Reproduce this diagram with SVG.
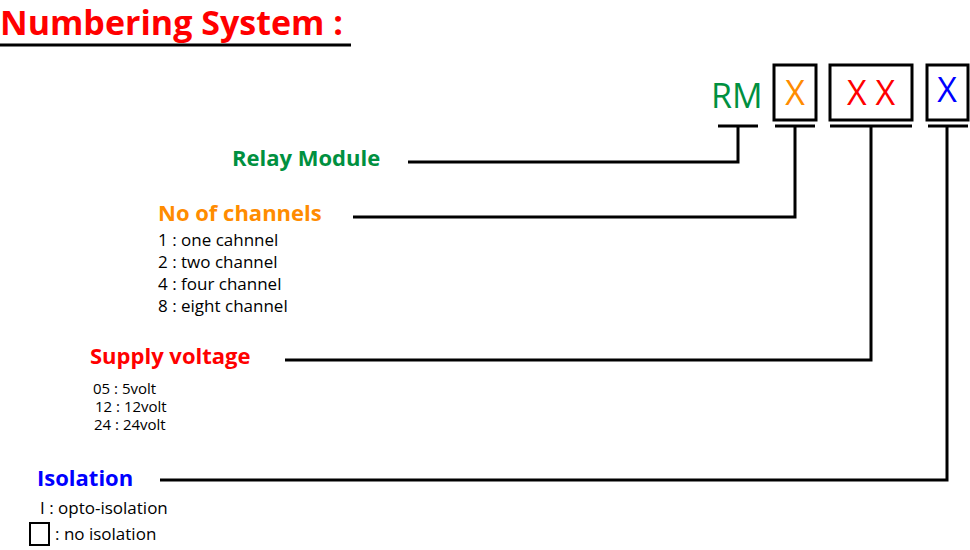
<svg xmlns="http://www.w3.org/2000/svg" width="970" height="550" viewBox="0 0 970 550">
<style>
text{font-family:"Open Sans","Liberation Sans",sans-serif}
.h{font-size:22px;font-weight:bold}
.s{font-size:17px;fill:#000}
.v{font-size:15px;fill:#000}
.box{fill:none;stroke:#000;stroke-width:3}
.ln{fill:none;stroke:#000;stroke-width:3}
.x{font-size:34px}
</style>
<rect width="970" height="550" fill="#fff"/>
<g id="title"><text x="0" y="35" font-size="34" font-weight="bold" fill="#ff0000">Numbering System :</text><line x1="0" y1="45" x2="351" y2="45" stroke="#000" stroke-width="3"/></g>
<g id="code">
<text x="711" y="108" class="x" fill="#009040">RM</text>
<rect x="774" y="65" width="42" height="55" class="box"/><text x="795" y="105" class="x" fill="#ff8c00" text-anchor="middle">X</text>
<rect x="830" y="65" width="82" height="55" class="box"/><text x="871" y="105" class="x" fill="#ff0000" text-anchor="middle">X X</text>
<rect x="927" y="65" width="41" height="55" class="box"/><text x="947" y="102" class="x" fill="#0000ff" text-anchor="middle">X</text>
</g>
<g id="connectors" class="ln">
<path d="M718 126H758M738 126V162H408"/>
<path d="M775 126H815M795 126V217H353"/>
<path d="M830 126H912M871 126V360H285"/>
<path d="M928 126H968M947 126V480H160"/>
</g>
<g id="relay"><text x="232" y="166" class="h" fill="#009040">Relay Module</text></g>
<g id="channels"><text x="158" y="221" class="h" fill="#ff8c00">No of channels</text>
<text x="158" y="246" class="s">1 : one cahnnel</text><text x="158" y="268" class="s">2 : two channel</text><text x="158" y="290" class="s">4 : four channel</text><text x="158" y="312" class="s">8 : eight channel</text></g>
<g id="supply"><text x="90" y="364" class="h" fill="#ff0000">Supply voltage</text>
<text x="93" y="394" class="v">05 : 5volt</text><text x="95" y="412" class="v">12  : 12volt</text><text x="94" y="430" class="v">24 : 24volt</text></g>
<g id="isolation"><text x="37" y="486" class="h" fill="#0000ff">Isolation</text>
<text x="40" y="514" class="s">I  : opto-isolation</text>
<rect x="30" y="523" width="19" height="22" fill="none" stroke="#000" stroke-width="2"/>
<text x="55" y="540" class="s">: no isolation</text></g>
</svg>
